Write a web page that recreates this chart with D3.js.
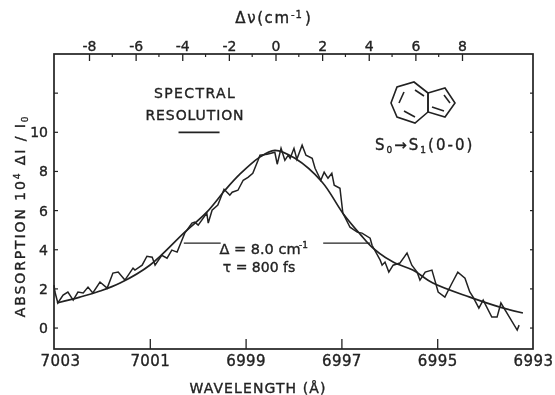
<!DOCTYPE html>
<html>
<head>
<meta charset="utf-8">
<script src="https://cdn.jsdelivr.net/npm/d3@7"></script>
<style>
  html, body { margin: 0; padding: 0; background: #fff; }
  svg { display: block; filter: blur(0.45px); }
  text { font-family: "DejaVu Sans", sans-serif; fill: #222; stroke: #222; stroke-width: 0.35px; }
  .domain, .tick line { stroke: #222; }
</style>
</head>
<body>
<svg width="555" height="395"></svg>
<script>
// noisy scan
const traceWavelength = [7003.00,7002.98,7002.92,7002.81,7002.71,7002.60,7002.50,7002.39,7002.29,7002.19,7002.04,7001.89,7001.77,7001.66,7001.52,7001.35,7001.31,7001.16,7001.06,7000.95,7000.89,7000.75,7000.64,7000.54,7000.43,7000.33,7000.27,7000.12,7000.06,6999.99,6999.81,6999.78,6999.70,6999.58,6999.45,6999.33,6999.28,6999.16,6999.05,6998.95,6998.85,6998.74,6998.70,6998.55,6998.39,6998.34,6998.26,6998.18,6998.11,6998.07,6997.99,6997.93,6997.82,6997.74,6997.61,6997.55,6997.43,6997.36,6997.28,6997.20,6997.15,6997.03,6996.97,6996.82,6996.67,6996.57,6996.40,6996.36,6996.19,6996.15,6996.09,6996.01,6995.92,6995.78,6995.63,6995.53,6995.42,6995.36,6995.25,6995.11,6995.05,6994.98,6994.84,6994.69,6994.57,6994.42,6994.32,6994.25,6994.13,6994.04,6993.86,6993.75,6993.67,6993.48,6993.33,6993.29];
const traceAbsorption = [2.19,1.84,1.28,1.68,1.84,1.43,1.84,1.79,2.09,1.79,2.35,2.04,2.81,2.86,2.45,3.06,2.96,3.21,3.67,3.62,3.21,3.72,3.57,3.98,3.88,4.49,4.85,5.36,5.41,5.26,5.87,5.36,6.02,6.28,7.09,6.79,6.94,7.04,7.55,7.70,7.91,8.57,8.83,8.88,8.98,8.37,9.18,8.57,8.83,8.67,9.18,8.62,9.34,8.83,8.67,8.16,7.55,7.96,7.65,7.91,7.30,7.14,5.87,5.15,4.90,4.85,4.59,4.23,3.47,3.21,3.37,2.86,3.21,3.32,3.83,3.21,2.86,2.45,2.86,2.96,2.45,1.84,1.58,2.30,2.86,2.55,1.84,1.58,1.02,1.43,0.56,0.56,1.28,0.51,-0.10,0.15];

// smooth fitted line
const fitWavelength = [7002.94,7002.46,7002.04,7001.62,7001.00,7000.27,6999.81,6999.43,6999.12,6998.74,6998.39,6997.97,6997.40,6996.97,6996.61,6996.34,6995.92,6995.51,6995.09,6994.32,6993.69,6993.21];
const fitAbsorption = [1.28,1.58,1.89,2.30,3.21,4.90,5.92,7.04,7.86,8.67,9.08,8.67,7.45,5.87,4.80,4.08,3.37,2.96,2.30,1.58,1.07,0.77];

const wavelengthTicks = [7003,7001,6999,6997,6995,6993];
const shiftTicks = [-8,-6,-4,-2,0,2,4,6,8];
const shiftMinorTicks = [-7,-5,-3,-1,1,3,5,7];
const absorptionTicks = [0,2,4,6,8,10];
const absorptionUnlabelled = [12];

// width marker: half maximum level and the two stubs either side of the label
const halfMaxLevel = 4.34;
const halfMaxLeft = [7000.29,6999.52];
const halfMaxRight = [6997.38,6996.40];
// spectral resolution bar, in cm-1
const resolutionBar = [-4.16,-2.40];
const resolutionLevel = 10;

const svg = d3.select("svg");
const margin = {top: 54, right: 22, bottom: 46, left: 54};
const width = 555 - margin.left - margin.right;
const height = 395 - margin.top - margin.bottom;
const g = svg.append("g").attr("transform", `translate(${margin.left},${margin.top})`);

const x = d3.scaleLinear().domain([7003,6993]).range([0,width]);
// top axis runs 23.3 px per cm-1, zero near 6998.4 A
const nu = d3.scaleLinear().domain([-8,8]).range([35,408]);
const y = d3.scaleLinear().domain([-1.07,14]).range([height,0]);

// frame
const ink = "#222";
g.append("rect").attr("width", width).attr("height", height)
  .attr("fill", "none").attr("stroke", ink).attr("stroke-width", 1.7);

// bottom axis
const bottom = g.append("g").attr("transform", `translate(0,${height})`)
  .call(d3.axisBottom(x).tickValues(wavelengthTicks).tickFormat(d3.format("d")).tickSize(0).tickPadding(6));
bottom.select(".domain").remove();
bottom.selectAll("text").attr("font-size", 15).attr("letter-spacing", 0.4);
bottom.selectAll(".tick").filter(d => d === 7003).select("text").attr("dx", 6);
bottom.selectAll(".tick").filter(d => d > 6993 && d < 7003).append("line")
  .attr("y2", -10).attr("stroke-width", 1.3);

// top axis, short hyphen like the original lettering
const top_ = g.append("g")
  .call(d3.axisTop(nu).tickValues(shiftTicks).tickFormat(d => String(d)).tickSize(0).tickPadding(3));
top_.select(".domain").remove();
top_.selectAll("text").attr("font-size", 14);
top_.selectAll(".tick").append("line").attr("y2", 7).attr("stroke-width", 1.3);
g.selectAll(".minorTop").data(shiftMinorTicks).enter()
  .append("line").attr("class", "minorTop")
  .attr("x1", d => nu(d)).attr("x2", d => nu(d)).attr("y1", 0).attr("y2", 3)
  .attr("stroke", ink).attr("stroke-width", 1.2);

// left axis
const left = g.append("g")
  .call(d3.axisLeft(y).tickValues(absorptionTicks).tickSize(0).tickPadding(6));
left.select(".domain").remove();
left.selectAll("text").attr("font-size", 14);
g.selectAll(".tickLeft").data(absorptionTicks.concat(absorptionUnlabelled)).enter()
  .append("line").attr("class", "tickLeft")
  .attr("x1", 0).attr("x2", 4).attr("y1", d => y(d)).attr("y2", d => y(d))
  .attr("stroke", ink).attr("stroke-width", 1.2);
g.selectAll(".tickRight").data(absorptionTicks.concat(absorptionUnlabelled)).enter()
  .append("line").attr("class", "tickRight")
  .attr("x1", width).attr("x2", width - 3).attr("y1", d => y(d)).attr("y2", d => y(d))
  .attr("stroke", ink).attr("stroke-width", 1.2);

// curves
const fitLine = d3.line().x(d => x(d[0])).y(d => y(d[1])).curve(d3.curveCatmullRom);
g.append("path").datum(d3.zip(fitWavelength, fitAbsorption))
  .attr("d", fitLine).attr("fill", "none").attr("stroke", ink).attr("stroke-width", 1.7);

const traceLine = d3.line().x(d => x(d[0])).y(d => y(d[1]));
g.append("path").datum(d3.zip(traceWavelength, traceAbsorption))
  .attr("d", traceLine).attr("fill", "none").attr("stroke", ink).attr("stroke-width", 1.5);

// half maximum stubs
[halfMaxLeft, halfMaxRight].forEach(s => {
  g.append("line").attr("x1", x(s[0])).attr("x2", x(s[1]))
    .attr("y1", y(halfMaxLevel)).attr("y2", y(halfMaxLevel))
    .attr("stroke", ink).attr("stroke-width", 1.3);
});

// resolution bar
g.append("line").attr("x1", nu(resolutionBar[0])).attr("x2", nu(resolutionBar[1]))
  .attr("y1", y(resolutionLevel)).attr("y2", y(resolutionLevel))
  .attr("stroke", ink).attr("stroke-width", 1.8);

// labels
function label(txt, px, py, size, spacing) {
  return svg.append("text").attr("x", px).attr("y", py).attr("text-anchor", "middle")
    .attr("font-size", size).attr("letter-spacing", spacing).text(txt);
}
label("SPECTRAL", 195, 98, 14, 1.4);
label("RESOLUTION", 195, 120, 14, 0.9);
label("WAVELENGTH (Å)", 258, 393, 14, 1.1);
label("Δ = 8.0 cm", 260, 254, 14.5, 0);
svg.append("text").attr("x", 299).attr("y", 248).attr("font-size", 9).text("-1");
label("τ = 800 fs", 259, 272, 14, 0);

label("Δν(cm", 263, 23, 15, 1.6);
svg.append("text").attr("x", 291).attr("y", 18).attr("font-size", 10).attr("letter-spacing", 1).text("-1");
svg.append("text").attr("x", 305).attr("y", 23).attr("font-size", 15).text(")");

// y title
const yTitle = svg.append("text").attr("transform", "translate(25,216) rotate(-90)")
  .attr("text-anchor", "middle").attr("font-size", 14).attr("letter-spacing", 1.9);
yTitle.append("tspan").text("ABSORPTION 10");
yTitle.append("tspan").attr("font-size", 9).attr("dy", -5).text("4");
yTitle.append("tspan").attr("dy", 5).text(" ΔI / I");
yTitle.append("tspan").attr("font-size", 9).attr("dy", 3).text("0");

// transition label
const trans = svg.append("text").attr("x", 375).attr("y", 150).attr("font-size", 15).attr("letter-spacing", 2);
trans.append("tspan").text("S");
trans.append("tspan").attr("font-size", 9).attr("dy", 3).text("0");
trans.append("tspan").attr("dy", -3).text("→S");
trans.append("tspan").attr("font-size", 9).attr("dy", 3).text("1");
trans.append("tspan").attr("dy", -3).text("(0-0)");

// azulene sketch, local coordinates
const mol = svg.append("g").attr("transform", "translate(391,82)")
  .attr("fill", "none").attr("stroke", ink).attr("stroke-width", 1.6);
const ring = d3.line().curve(d3.curveLinearClosed);
mol.append("path").attr("d", ring([[23,0],[37,11],[37,30],[24,41],[6,35],[0,21],[6,5]]));
mol.append("path").attr("d", ring([[37,11],[54,6],[64,21],[54,35],[37,30]]));
[[[24,8],[33,14]], [[8,21],[13,10]], [[13,29],[24,35]], [[53,13],[59,21]], [[41,25],[53,29]]].forEach(b => {
  mol.append("path").attr("d", d3.line()(b));
});
</script>
</body>
</html>
